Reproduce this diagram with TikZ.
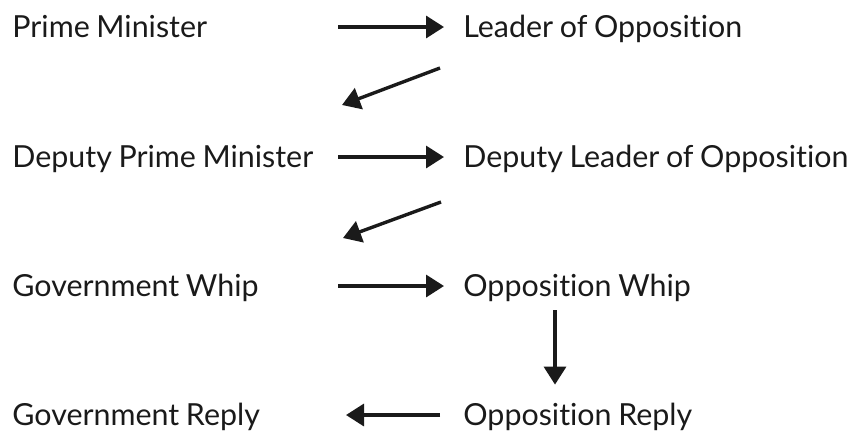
\documentclass[tikz,border=0pt]{standalone}
\usepackage{fontspec}
\setmainfont{Lato}[Ligatures=NoCommon, WordSpace=0.85]
\usetikzlibrary{arrows.meta}

\begin{document}
\begin{tikzpicture}[x=0.5pt, y=-0.5pt, font=\fontsize{15.2}{18}\selectfont]
    % --- Estilos ---
    \definecolor{inkblack}{HTML}{1A1A1A}
    \tikzset{
        side/.style={inner sep=0, text height=12pt, text depth=2pt, anchor=base west, text=inkblack},
        flow/.style={draw=inkblack, line width=1.7pt, -{Triangle[length=9pt, width=11pt]}}
    }
    \useasboundingbox (0,0) rectangle (856,435);

    % --- Turnos del Gobierno y de la Oposicion ---
    \node[side] (pm)  at (12,37)   {Prime Minister};
    \node[side] (lo)  at (463,37)  {Leader of Opposition};
    \node[side] (dpm) at (12,167)  {Deputy Prime Minister};
    \node[side] (dlo) at (463,167) {Deputy Leader of Opposition};
    \node[side] (gw)  at (12,296)  {Government Whip};
    \node[side] (ow)  at (463,296) {Opposition Whip};
    \node[side] (gr)  at (12,425)  {Government Reply};
    \node[side] (or)  at (463,425) {Opposition Reply};

    % columna donde empiezan las flechas
    \coordinate (gapl) at (338,0);

    % --- Flechas horizontales ---
    \foreach \a/\b in {pm/lo, dpm/dlo, gw/ow} {
        \draw[flow, shorten >=9.5pt] (\a.east -| gapl) -- (\b.west);
    }
    \draw[flow, shorten <=11.5pt, shorten >=4pt] (or.west) -- (gr.east -| gapl);

    % --- Flechas diagonales y vertical ---
    \draw[flow] ([shift={(-23,41)}]lo.west) -- ([shift={(4,-52)}]dpm.east -| gapl);
    \draw[flow] ([shift={(-22,45)}]dlo.west) -- ([shift={(5,-48)}]gw.east -| gapl);
    \draw[flow] ([shift={(92,10)}]ow.south west) -- ([shift={(92,-16)}]or.north west);
\end{tikzpicture}
\end{document}
